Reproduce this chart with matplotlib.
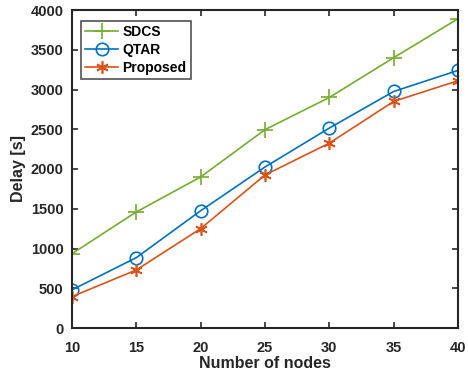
import matplotlib
matplotlib.use("Agg")
import matplotlib.pyplot as plt

nodes = [10, 15, 20, 25, 30, 35, 40]
sdcs = [935, 1460, 1900, 2495, 2900, 3400, 3890]
qtar = [480, 885, 1475, 2025, 2515, 2975, 3240]
proposed = [395, 730, 1250, 1925, 2325, 2850, 3110]

plt.rcParams['font.family'] = ['Liberation Sans', 'DejaVu Sans']
plt.rcParams['font.weight'] = 'bold'

fig = plt.figure(figsize=(4.68, 3.73), dpi=100)
ax = fig.add_axes([72/468, 1-328/373, (458-72)/468, (328-10)/373])

ax.plot(nodes, sdcs, color='#77AC30', marker='+', markersize=11, markeredgewidth=1.2, linewidth=1.2, label='SDCS')
ax.plot(nodes, qtar, color='#0072BD', marker='o', markersize=9, markerfacecolor='none', markeredgewidth=1.2, linewidth=1.2, label='QTAR')
ax.plot(nodes, proposed, color='#D95319', marker=(6, 2, 0), markersize=9, markeredgewidth=1.2, linewidth=1.2, label='Proposed')

ax.set_xlim(10, 40)
ax.set_ylim(0, 4000)
ax.set_xticks(nodes)
ax.set_yticks(range(0, 4001, 500))
ax.tick_params(direction='in', length=4, width=1.2, labelsize=10.5, colors='#262626', top=True, right=True)
ax.tick_params(axis='x', pad=9)
ax.tick_params(axis='y', pad=6)
for lbl in ax.get_xticklabels() + ax.get_yticklabels():
    lbl.set_fontweight('bold')
for s in ax.spines.values():
    s.set_linewidth(1.5)
    s.set_color('#262626')
ax.set_xlabel('Number of nodes', fontsize=11.5, fontweight='bold', color='#262626', labelpad=1)
ax.set_ylabel('Delay [s]', fontsize=11.5, fontweight='bold', color='#262626', labelpad=3)

leg = ax.legend(loc='upper left', bbox_to_anchor=(0.012, 0.98), fancybox=False, edgecolor='#262626',
                prop={'weight': 'bold', 'size': 10}, handlelength=2.4, borderpad=0.3, labelspacing=0.3,
                handletextpad=0.3, borderaxespad=0.3)
leg.get_frame().set_linewidth(1.2)

fig.savefig('out.png', dpi=100)
